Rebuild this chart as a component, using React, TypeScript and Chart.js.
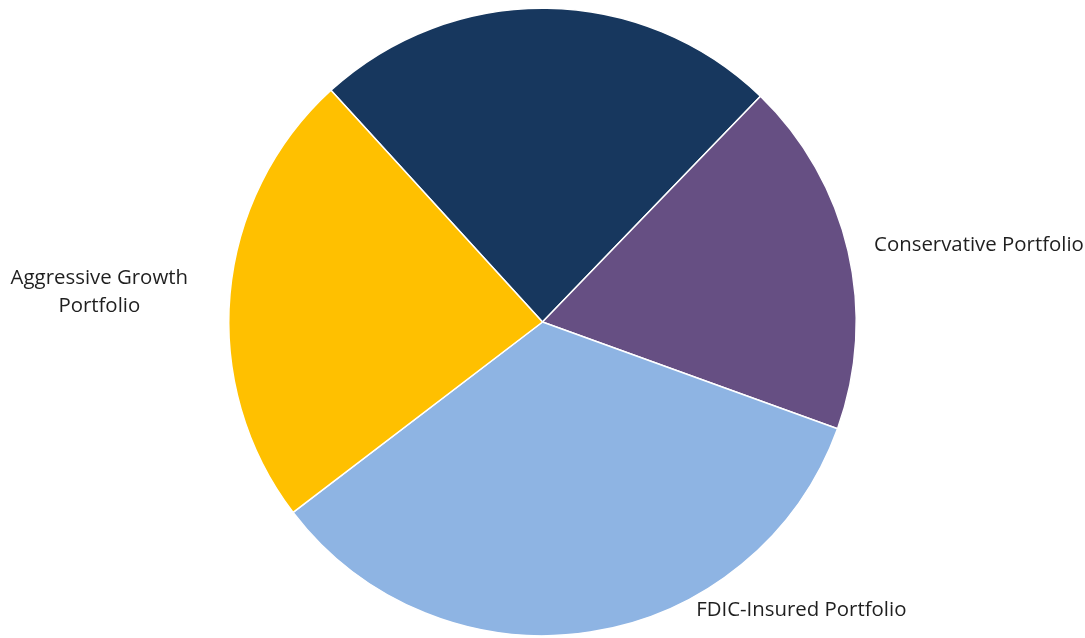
import React, { useEffect, useRef } from "react";
import { Chart, registerables } from "chart.js";

Chart.register(...registerables);

const categories: string[] = [
  "Moderate Portfolio",
  "Conservative Portfolio",
  "FDIC-Insured Portfolio",
  "Aggressive Growth Portfolio",
];
const values: number[] = [24.0, 18.3, 34.1, 23.6];
const colors: string[] = ["#17375E", "#664F83", "#8EB4E3", "#FFC000"];
// label text (lines); empty = no label shown
const labelLines: string[][] = [
  [],
  ["Conservative Portfolio"],
  ["FDIC-Insured Portfolio"],
  ["Aggressive Growth", "Portfolio"],
];
// label placement: angle (deg clockwise from top), distance in radii, anchor side
const labelAngle: (number | null)[] = [null, 76.9, 151.9, 274.8];
const labelDist: number[] = [0, 1.085, 1.04, 1.134];
const labelAnchor: string[] = ["left", "left", "left", "right"];

const FONT = "20.4px 'Open Sans'";
const LINE_H = 28;

const labelPlugin = {
  id: "outsideLabels",
  afterDraw(chart: any) {
    const ctx = chart.ctx;
    const meta = chart.getDatasetMeta(0);
    ctx.save();
    ctx.font = FONT;
    ctx.fillStyle = "#1f1f1f";
    ctx.textBaseline = "middle";
    meta.data.forEach((arc: any, i: number) => {
      const lines = labelLines[i];
      if (!lines || !lines.length) return;
      const a = labelAngle[i];
      const ang = a === null ? (arc.startAngle + arc.endAngle) / 2 : ((a - 90) * Math.PI) / 180;
      const r = arc.outerRadius * labelDist[i];
      const ax = arc.x + Math.cos(ang) * r;
      const ay = arc.y + Math.sin(ang) * r;
      const w = Math.max(...lines.map((l) => ctx.measureText(l).width));
      const cx = labelAnchor[i] === "left" ? ax + w / 2 : ax - w / 2;
      const top = ay - ((lines.length - 1) * LINE_H) / 2;
      ctx.textAlign = "center";
      lines.forEach((l, k) => ctx.fillText(l, cx, top + k * LINE_H));
    });
    ctx.restore();
  },
};

export default function App() {
  const ref = useRef<HTMLCanvasElement>(null);
  useEffect(() => {
    if (!ref.current) return;
    const chart = new Chart(ref.current, {
      type: "pie",
      data: {
        labels: categories,
        datasets: [
          {
            data: values,
            backgroundColor: colors,
            borderColor: "#ffffff",
            borderWidth: 1.5,
          },
        ],
      },
      options: {
        responsive: false,
        animation: false,
        rotation: -42.4,
        layout: { padding: { left: 228, right: 228, top: 7, bottom: 1 } },
        plugins: {
          legend: { display: false },
          tooltip: { enabled: false },
        },
      },
      plugins: [labelPlugin],
    });
    return () => chart.destroy();
  }, []);
  return (
    <div style={{ position: "fixed", left: 0, top: 0, width: 1085, height: 638, background: "#fff" }}>
      <canvas ref={ref} width={1085} height={638} style={{ width: 1085, height: 638 }} />
    </div>
  );
}
